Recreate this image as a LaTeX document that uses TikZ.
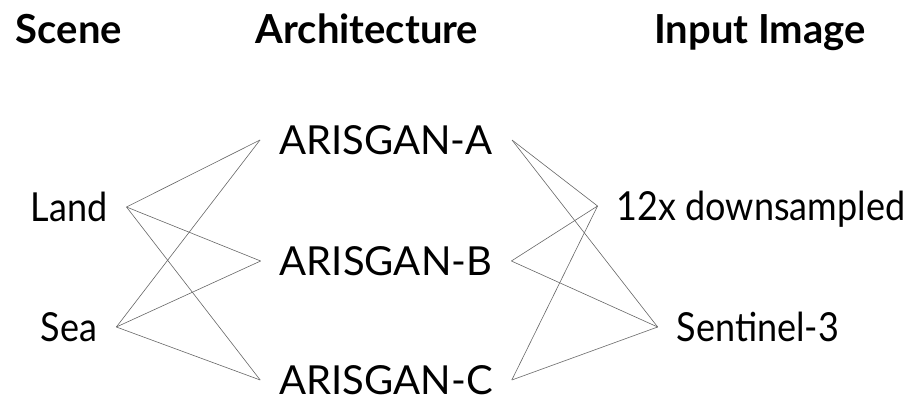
\documentclass[tikz,border=0pt]{standalone}
\usepackage{fontspec}
\setmainfont{Lato}
\newfontfamily\slimfont{Lato}[FakeStretch=0.9]
\usepackage{tikz}
\usetikzlibrary{positioning}

\begin{document}
\begin{tikzpicture}[
    x=1pt, y=-1pt,
    head/.style={font=\fontsize{40}{44}\selectfont\bfseries, inner sep=0pt, anchor=base},
    item/.style={font=\fontsize{40}{44}\selectfont, inner xsep=19pt, inner ysep=0pt, text height=29pt, text depth=0pt},
    slim/.style={item, font=\fontsize{40}{44}\selectfont\slimfont},
    link/.style={draw=black!60, line width=0.6pt}
]
    \useasboundingbox (0,0) rectangle (909,399);

    % column headers
    \node[head] (scene) at (69,43) {Scene};
    \node[head] (arch) at (367,43) {Architecture};
    \node[head] (input) at (760,43) {Input Image};

    % scenes
    \node[slim] (land) at (69,207) {Land};
    \node[slim] (sea) at (69,327) {Sea};

    % architectures
    \node[item] (ganA) at (386,140) {ARISGAN-A};
    \node[item] (ganB) at (386,261) {ARISGAN-B};
    \node[item] (ganC) at (386,380) {ARISGAN-C};

    % input images
    \node[slim] (down) at (761,206) {12x downsampled};
    \node[slim] (sent) at (758,327) {Sentinel-3};

    \draw[link] (land.east) -- (ganA.west);
    \draw[link] (land.east) -- (ganB.west);
    \draw[link] (land.east) -- (ganC.west);
    \draw[link] (sea.east) -- (ganA.west);
    \draw[link] (sea.east) -- (ganB.west);
    \draw[link] (sea.east) -- (ganC.west);

    \draw[link] (ganA.east) -- (down.west);
    \draw[link] (ganA.east) -- (sent.west);
    \draw[link] (ganB.east) -- (down.west);
    \draw[link] (ganB.east) -- (sent.west);
    \draw[link] (ganC.east) -- (down.west);
    \draw[link] (ganC.east) -- (sent.west);
\end{tikzpicture}
\end{document}
